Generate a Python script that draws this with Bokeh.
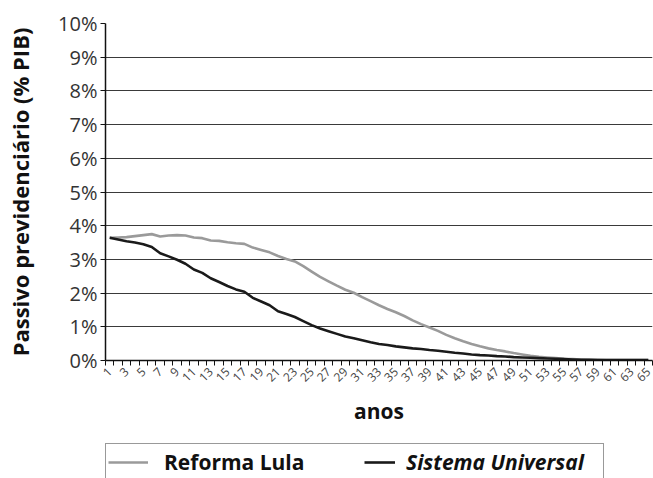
import math
from bokeh.plotting import figure
from bokeh.layouts import column
from bokeh.models import (ColumnDataSource, Range1d, FixedTicker, Legend, LegendItem)
from bokeh.embed import file_html
from bokeh.resources import INLINE

anos = list(range(1, 66))
reforma_lula = [3.64, 3.65, 3.66, 3.69, 3.72, 3.75, 3.68, 3.71, 3.72, 3.71,
                3.65, 3.63, 3.56, 3.55, 3.51, 3.48, 3.46, 3.35, 3.28, 3.21,
                3.10, 3.01, 2.94, 2.80, 2.64, 2.48, 2.35, 2.22, 2.10, 2.01,
                1.88, 1.76, 1.64, 1.53, 1.43, 1.32, 1.19, 1.08, 0.98, 0.88,
                0.76, 0.66, 0.57, 0.49, 0.42, 0.36, 0.31, 0.27, 0.22, 0.18,
                0.14, 0.11, 0.09, 0.07, 0.05, 0.04, 0.03, 0.02, 0.02, 0.01,
                0.01, 0.01, 0.01, 0.01, 0.01]
sistema_universal = [3.64, 3.59, 3.54, 3.50, 3.45, 3.37, 3.18, 3.09, 2.99, 2.87,
                     2.70, 2.60, 2.44, 2.33, 2.21, 2.11, 2.04, 1.86, 1.75, 1.64,
                     1.46, 1.38, 1.29, 1.17, 1.05, 0.95, 0.87, 0.79, 0.71, 0.66,
                     0.60, 0.54, 0.49, 0.46, 0.42, 0.39, 0.36, 0.34, 0.31, 0.29,
                     0.26, 0.23, 0.21, 0.18, 0.16, 0.15, 0.13, 0.12, 0.10, 0.09,
                     0.08, 0.07, 0.06, 0.05, 0.04, 0.03, 0.02, 0.02, 0.01, 0.01,
                     0.01, 0.01, 0.01, 0.01, 0.01]
y_ticks = list(range(0, 11))
y_tick_labels = [f"{v}%" for v in y_ticks]
x_label_ticks = list(range(1, 66, 2))
series_names = ["Reforma Lula", "Sistema Universal"]
series_colors = ["#9a9a9a", "#1a1a1a"]

src = ColumnDataSource(dict(x=anos, lula=reforma_lula, univ=sistema_universal))

FONT = "Open Sans"

p = figure(width=653, height=443, output_backend="svg", toolbar_location=None,
           x_range=Range1d(0.5, 65.5), y_range=Range1d(0, 10),
           min_border_left=105, min_border_right=1, min_border_top=23,
           min_border_bottom=83)
p.background_fill_color = "white"
p.border_fill_color = "white"
p.outline_line_color = None

p.xgrid.visible = False
p.ygrid.ticker = FixedTicker(ticks=y_ticks)
p.ygrid.grid_line_color = "#3a3a3a"
p.ygrid.grid_line_width = 1

# y axis
p.yaxis.ticker = FixedTicker(ticks=y_ticks)
p.yaxis.major_label_overrides = {v: l for v, l in zip(y_ticks, y_tick_labels)}
p.yaxis.axis_label = "Passivo previdenciário (% PIB)"
p.yaxis.axis_label_text_font = FONT
p.yaxis.axis_label_text_font_style = "bold"
p.yaxis.axis_label_text_font_size = "22px"
p.yaxis.axis_label_text_color = "#111111"
p.yaxis.axis_label_standoff = 20
p.yaxis.major_label_text_font = FONT
p.yaxis.major_label_text_font_size = "20px"
p.yaxis.major_label_text_color = "#333333"
p.yaxis.major_label_standoff = 3
p.yaxis.major_tick_in = 0
p.yaxis.major_tick_out = 5
p.yaxis.minor_tick_line_color = None
p.yaxis.axis_line_color = "#111111"
p.yaxis.axis_line_width = 1.5
p.yaxis.major_tick_line_color = "#111111"

# x axis
boundaries = [i + 0.5 for i in range(0, 66)]
p.xaxis.ticker = FixedTicker(ticks=x_label_ticks, minor_ticks=boundaries)
p.xaxis.major_label_overrides = {v: str(v) for v in x_label_ticks}
p.xaxis.major_tick_line_color = None
p.xaxis.minor_tick_in = 0
p.xaxis.minor_tick_out = 5
p.xaxis.minor_tick_line_color = "#111111"
p.xaxis.axis_line_color = "#111111"
p.xaxis.axis_line_width = 1.5
p.xaxis.major_label_orientation = math.pi / 4
p.xaxis.major_label_text_font = FONT
p.xaxis.major_label_text_font_size = "12px"
p.xaxis.major_label_text_color = "#444444"
p.xaxis.major_label_standoff = 3
p.xaxis.axis_label = "anos"
p.xaxis.axis_label_text_font = FONT
p.xaxis.axis_label_text_font_style = "bold"
p.xaxis.axis_label_text_font_size = "21px"
p.xaxis.axis_label_text_color = "#111111"
p.xaxis.axis_label_standoff = 8

p.line("x", "lula", source=src, line_color=series_colors[0], line_width=2.6)
p.line("x", "univ", source=src, line_color=series_colors[1], line_width=2.6)

# legend strip below the chart (its lines lie outside its visible range)
lf = figure(width=653, height=35, output_backend="svg", toolbar_location=None,
            x_range=Range1d(0.5, 65.5), y_range=Range1d(50, 60),
            x_axis_location=None, y_axis_location=None,
            min_border=0, min_border_left=0, min_border_right=0,
            min_border_top=0, min_border_bottom=0)
lf.outline_line_color = None
lf.grid.visible = False
lf.background_fill_color = "white"
lf.border_fill_color = "white"
l_lula = lf.line("x", "lula", source=src, line_color=series_colors[0], line_width=2.6)
l_univ = lf.line("x", "univ", source=src, line_color=series_colors[1], line_width=2.6)

leg1 = Legend(items=[LegendItem(label=series_names[0], renderers=[l_lula])],
              location=(0, -3), orientation="horizontal",
              padding=2, margin=0, spacing=0,
              glyph_width=40, glyph_height=32, label_height=32,
              label_standoff=16, label_width=437,
              label_text_font=FONT, label_text_font_style="bold",
              label_text_font_size="21px", label_text_color="#111111",
              border_line_color="#333333", border_line_width=1.2,
              background_fill_color="white", background_fill_alpha=1)
leg2 = Legend(items=[LegendItem(label=series_names[1], renderers=[l_univ])],
              location=(259, 0), orientation="horizontal",
              padding=2, margin=0, spacing=0,
              glyph_width=31, glyph_height=32, label_height=32,
              label_standoff=11,
              label_text_font=FONT, label_text_font_style="bold italic",
              label_text_font_size="21px", label_text_color="#111111",
              border_line_color=None, background_fill_alpha=0)
lf.add_layout(leg1, "center")
lf.add_layout(leg2, "center")

layout = column(p, lf, spacing=0)
open("out.html", "w").write(file_html(layout, INLINE))
